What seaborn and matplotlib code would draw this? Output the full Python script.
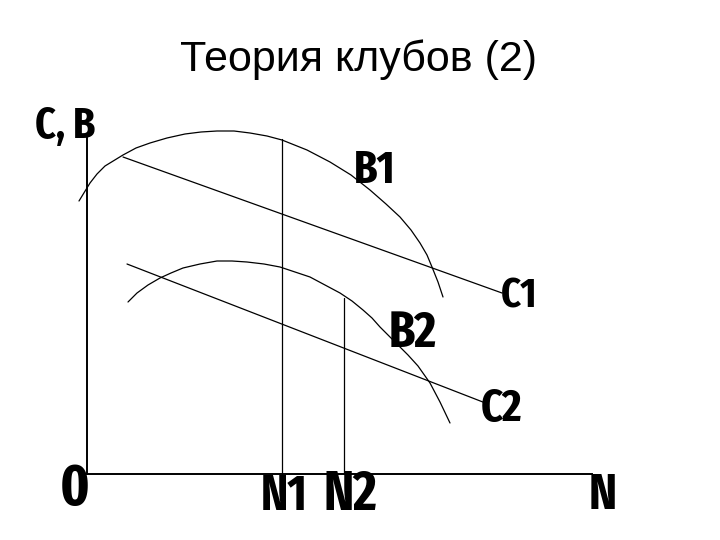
import matplotlib
matplotlib.use('Agg')
import matplotlib.pyplot as plt
import seaborn as sns

# ================= данные (условные единицы) =================
b1_x = [-8, 3, 10, 18, 36, 49, 63, 80, 98, 114, 130, 147, 163, 180, 195, 220, 243, 264, 283, 299, 313, 324, 333, 340, 345, 351, 356]
b1_y = [273, 291, 300, 308, 319, 326, 331, 336, 340, 342, 343, 343, 341, 338, 334, 324, 312, 299, 284, 270, 257, 244, 231, 219, 207, 192, 177]

b2_x = [41, 50, 61, 73, 84, 96, 113, 130, 145, 160, 177, 193, 208, 223, 238, 253, 265, 276, 285, 293, 302, 311, 321, 331, 343, 353, 363]
b2_y = [172, 181, 189, 196, 201, 206, 210, 213, 213, 212, 210, 207, 202, 197, 189, 181, 173, 164, 156, 147, 138, 129, 119, 108, 91, 72, 51]

c1_x = [36, 415]
c1_y = [317, 181]
c2_x = [40, 401]
c2_y = [210, 70]

n1 = 195
n1_top = 335
n2 = 257
n2_top = 176

y_max = 336
x_max = 505

sns.set_style('white')
plt.rcParams['font.family'] = ['Liberation Sans', 'DejaVu Sans']

fig = plt.figure(figsize=(7.2, 5.4), dpi=100, facecolor='white')
ax = fig.add_axes([0, 0, 1, 1])

# кривые выгод и издержек
for xs, ys in [(b1_x, b1_y), (b2_x, b2_y), (c1_x, c1_y), (c2_x, c2_y)]:
    sns.lineplot(x=xs, y=ys, sort=False, estimator=None, color='black', lw=0.9, ax=ax)

# оптимальные размеры клуба
sns.lineplot(x=[n1, n1], y=[0, n1_top], sort=False, estimator=None, color='black', lw=0.9, ax=ax)
sns.lineplot(x=[n2, n2], y=[0, n2_top], sort=False, estimator=None, color='black', lw=0.9, ax=ax)

# оси
sns.despine(ax=ax, top=True, right=True)
ax.spines['left'].set_position(('data', 0))
ax.spines['bottom'].set_position(('data', 0))
ax.spines['left'].set_bounds(0, y_max)
ax.spines['bottom'].set_bounds(0, x_max)
for s in ['left', 'bottom']:
    ax.spines[s].set_linewidth(1.4)
    ax.spines[s].set_color('black')
ax.set_xticks([])
ax.set_yticks([])
ax.set_xlim(-87, 633)
ax.set_ylim(-66, 474)

lab = dict(family=['Fira Sans Extra Condensed', 'DejaVu Sans'], weight='bold',
           ha='center', va='center', color='black')
ax.text(-22, 347, 'C, B', fontsize=31, **lab)
ax.text(288, 303, 'B1', fontsize=33, **lab)
ax.text(432, 178, 'C1', fontsize=30, **lab)
ax.text(326, 140, 'B2', fontsize=37, **lab)
ax.text(414, 65, 'C2', fontsize=33, **lab)
ax.text(-12, -16, '0', fontsize=42, **lab)
ax.text(197, -23, 'N1', fontsize=36, **lab)
ax.text(263, -21, 'N2', fontsize=40, **lab)
ax.text(516, -22, 'N', fontsize=37, **lab)

fig.text(358 / 720, 1 - 60 / 540, 'Теория клубов (2)', fontsize=31,
         ha='center', va='center', color='black')

fig.savefig('out.png', dpi=100, facecolor='white')
